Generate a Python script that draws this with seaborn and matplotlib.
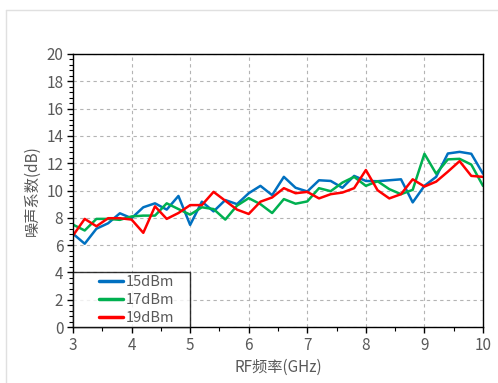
"""
Noise figure vs RF frequency
"""

import matplotlib
matplotlib.use("Agg")
import matplotlib.pyplot as plt
from matplotlib.legend_handler import HandlerLine2D
from matplotlib.lines import Line2D
from matplotlib.ticker import MultipleLocator
import pandas as pd
import seaborn as sns

# RF frequency points (GHz)
freq = [3.0, 3.2, 3.4, 3.6, 3.8, 4.0, 4.2, 4.4, 4.6, 4.8, 5.0, 5.2,
        5.4, 5.6, 5.8, 6.0, 6.2, 6.4, 6.6, 6.8, 7.0, 7.2, 7.4, 7.6,
        7.8, 8.0, 8.2, 8.4, 8.6, 8.8, 9.0, 9.2, 9.4, 9.6, 9.8, 10.0]

# noise figure (dB) per LO power
nf_15dbm = [6.83, 6.1, 7.2, 7.6, 8.33, 7.97, 8.77, 9.06, 8.6, 9.6, 7.48, 9.18,
            8.47, 9.3, 9.0, 9.8, 10.34, 9.66, 11.0, 10.2, 9.93, 10.75, 10.7, 10.2,
            11.07, 10.7, 10.68, 10.75, 10.82, 9.13, 10.34, 11.0, 12.71, 12.83, 12.69, 11.23]
nf_17dbm = [7.5, 7.07, 7.92, 7.92, 7.85, 8.1, 8.16, 8.16, 9.06, 8.64, 8.23, 8.77,
            8.64, 7.87, 8.89, 9.44, 9.0, 8.35, 9.37, 9.03, 9.2, 10.17, 9.95, 10.58,
            11.0, 10.34, 10.68, 10.1, 9.73, 10.05, 12.69, 11.23, 12.28, 12.32, 11.9, 10.34]
nf_19dbm = [6.7, 7.92, 7.38, 7.97, 7.97, 7.87, 6.9, 8.84, 7.92, 8.35, 8.93, 8.93,
            9.9, 9.25, 8.6, 8.28, 9.18, 9.49, 10.17, 9.8, 9.9, 9.42, 9.73, 9.85,
            10.17, 11.5, 10.02, 9.42, 9.73, 10.82, 10.29, 10.65, 11.38, 12.15, 11.07, 11.0]

series_names = ["15dBm", "17dBm", "19dBm"]
colors = ["#0070C0", "#00B050", "#FF0000"]

sns.set_style("white")
plt.rcParams["font.family"] = ["Noto Sans CJK SC", "DejaVu Sans"]

text_gray = "#595959"

df = pd.concat([
    pd.DataFrame({"freq": freq, "nf": vals, "power": name})
    for name, vals in zip(series_names, [nf_15dbm, nf_17dbm, nf_19dbm])
])

fig = plt.figure(figsize=(4.98, 3.83), dpi=100)
ax = fig.add_axes([73 / 498, 1 - 327 / 383, 410 / 498, 273 / 383])

sns.lineplot(data=df, x="freq", y="nf", hue="power", palette=colors,
             linewidth=1.8, ax=ax, legend=False)

ax.set_xlim(3, 10)
ax.set_ylim(0, 20)
ax.xaxis.set_major_locator(MultipleLocator(1))
ax.xaxis.set_minor_locator(MultipleLocator(0.5))
ax.yaxis.set_major_locator(MultipleLocator(2))
ax.yaxis.set_minor_locator(MultipleLocator(0.4))
ax.grid(True, which="major", linestyle=(0, (3, 3)), color="#b4b4b4", linewidth=0.8)

for s in ax.spines.values():
    s.set_color("black")
    s.set_linewidth(1.0)

ax.tick_params(which="major", direction="out", length=4, width=1, color="black",
               labelsize=11, labelcolor=text_gray, left=True, bottom=True, pad=3)
ax.tick_params(which="minor", direction="out", length=3, width=0.8, color="black",
               left=True, bottom=True)

ax.set_xlabel("RF频率(GHz)", fontsize=11, color=text_gray, labelpad=4)
ax.set_ylabel("噪声系数(dB)", fontsize=11, color=text_gray, labelpad=4)

# legend: short line handles indented inside a box spanning 3-5 GHz, 0-4 dB
handles = [Line2D([], [], color=c, linewidth=2.5) for c in colors]
leg = ax.legend(handles, series_names, loc="lower left",
                bbox_to_anchor=(0, 0, 2 / 7, 0.2), mode="expand",
                borderaxespad=0, fontsize=10.5, labelcolor=text_gray,
                handlelength=3.3, handletextpad=0.15, labelspacing=0.28,
                borderpad=0.15, fancybox=False,
                handler_map={Line2D: HandlerLine2D(xpad=1.65)})
leg.get_frame().set_edgecolor("black")
leg.get_frame().set_linewidth(1.0)

# light outer border of the chart area
fig.add_artist(Line2D([5.5 / 498, 5.5 / 498], [0, 1 - 9.5 / 383],
                      transform=fig.transFigure, color="#e0e0e0", linewidth=1))
fig.add_artist(Line2D([5.5 / 498, 1], [1 - 9.5 / 383, 1 - 9.5 / 383],
                      transform=fig.transFigure, color="#e0e0e0", linewidth=1))

fig.savefig("out.png", dpi=100)
plt.close(fig)
